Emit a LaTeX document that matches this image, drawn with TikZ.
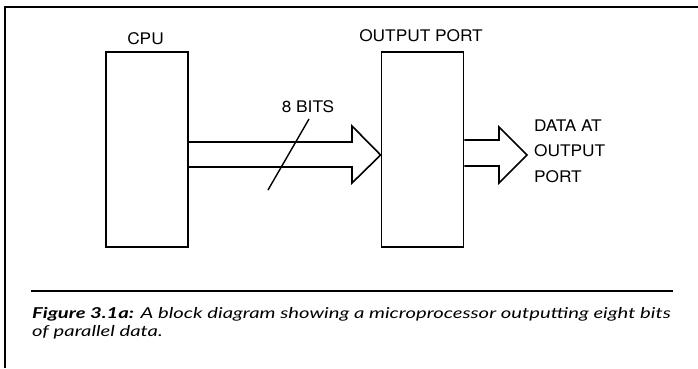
\documentclass[tikz,border=0pt]{standalone}
\usepackage{fontspec}
\setmainfont[FakeStretch=1.08]{TeX Gyre Heros}
\newfontfamily\capfont[FakeStretch=1.35]{Lato}
\usetikzlibrary{positioning,calc}

\begin{document}
\begin{tikzpicture}[x=1pt, y=-1pt,
  block/.style={draw, line width=1.8pt, minimum width=82pt, minimum height=195pt, inner sep=0pt},
  lbl/.style={font=\fontsize{16}{20}\selectfont, inner sep=0pt},
  bus/.style={draw, line width=1.6pt, line join=miter},
  frame/.style={line width=2.6pt},
  capt/.style={font=\capfont\itshape\fontsize{15}{18}\selectfont, inner sep=0pt, anchor=base west, align=left}
]
\useasboundingbox (0,0) rectangle (698,368);

\draw[frame] (5,368) -- (5,7) -- (698,7);

\node[block] (cpu) at (147,149.5) {};
\node[block] (port) at (422.5,149.5) {};

\node[lbl] (cpulbl) at (145.5,38.5) {CPU};
\node[lbl] (portlbl) at (421,36) {OUTPUT PORT};
\node[lbl] (bits) at (308,106.5) {8 BITS};

% bus from cpu to port
\coordinate (tipa) at ($(port.west)+(0,5.5)$);
\draw[bus] (cpu.east |- 0,142) -- (352,142) -- (352,126) -- (tipa)
  -- (352,183) -- (352,167) -- (cpu.east |- 0,167);
\draw[line width=1.4pt] (268,190) -- (309,119);

% bus out of port
\coordinate (tipb) at (527,155);
\draw[bus] (port.east |- 0,140) -- (499,140) -- (499,127) -- (tipb)
  -- (499,183) -- (499,166) -- (port.east |- 0,166);

\node[lbl, anchor=west] (out1) at (534,125.5) {DATA AT};
\node[lbl, anchor=west] (out2) at (534,150.5) {OUTPUT};
\node[lbl, anchor=west] (out3) at (534,176.5) {PORT};

\draw[frame] (31,291) -- (673,291);
\node[capt] (caption) at (32,336) {\textbf{Figure 3.1a:} A block diagram showing a microprocessor outputting eight bits\\of parallel data.};

\end{tikzpicture}
\end{document}
